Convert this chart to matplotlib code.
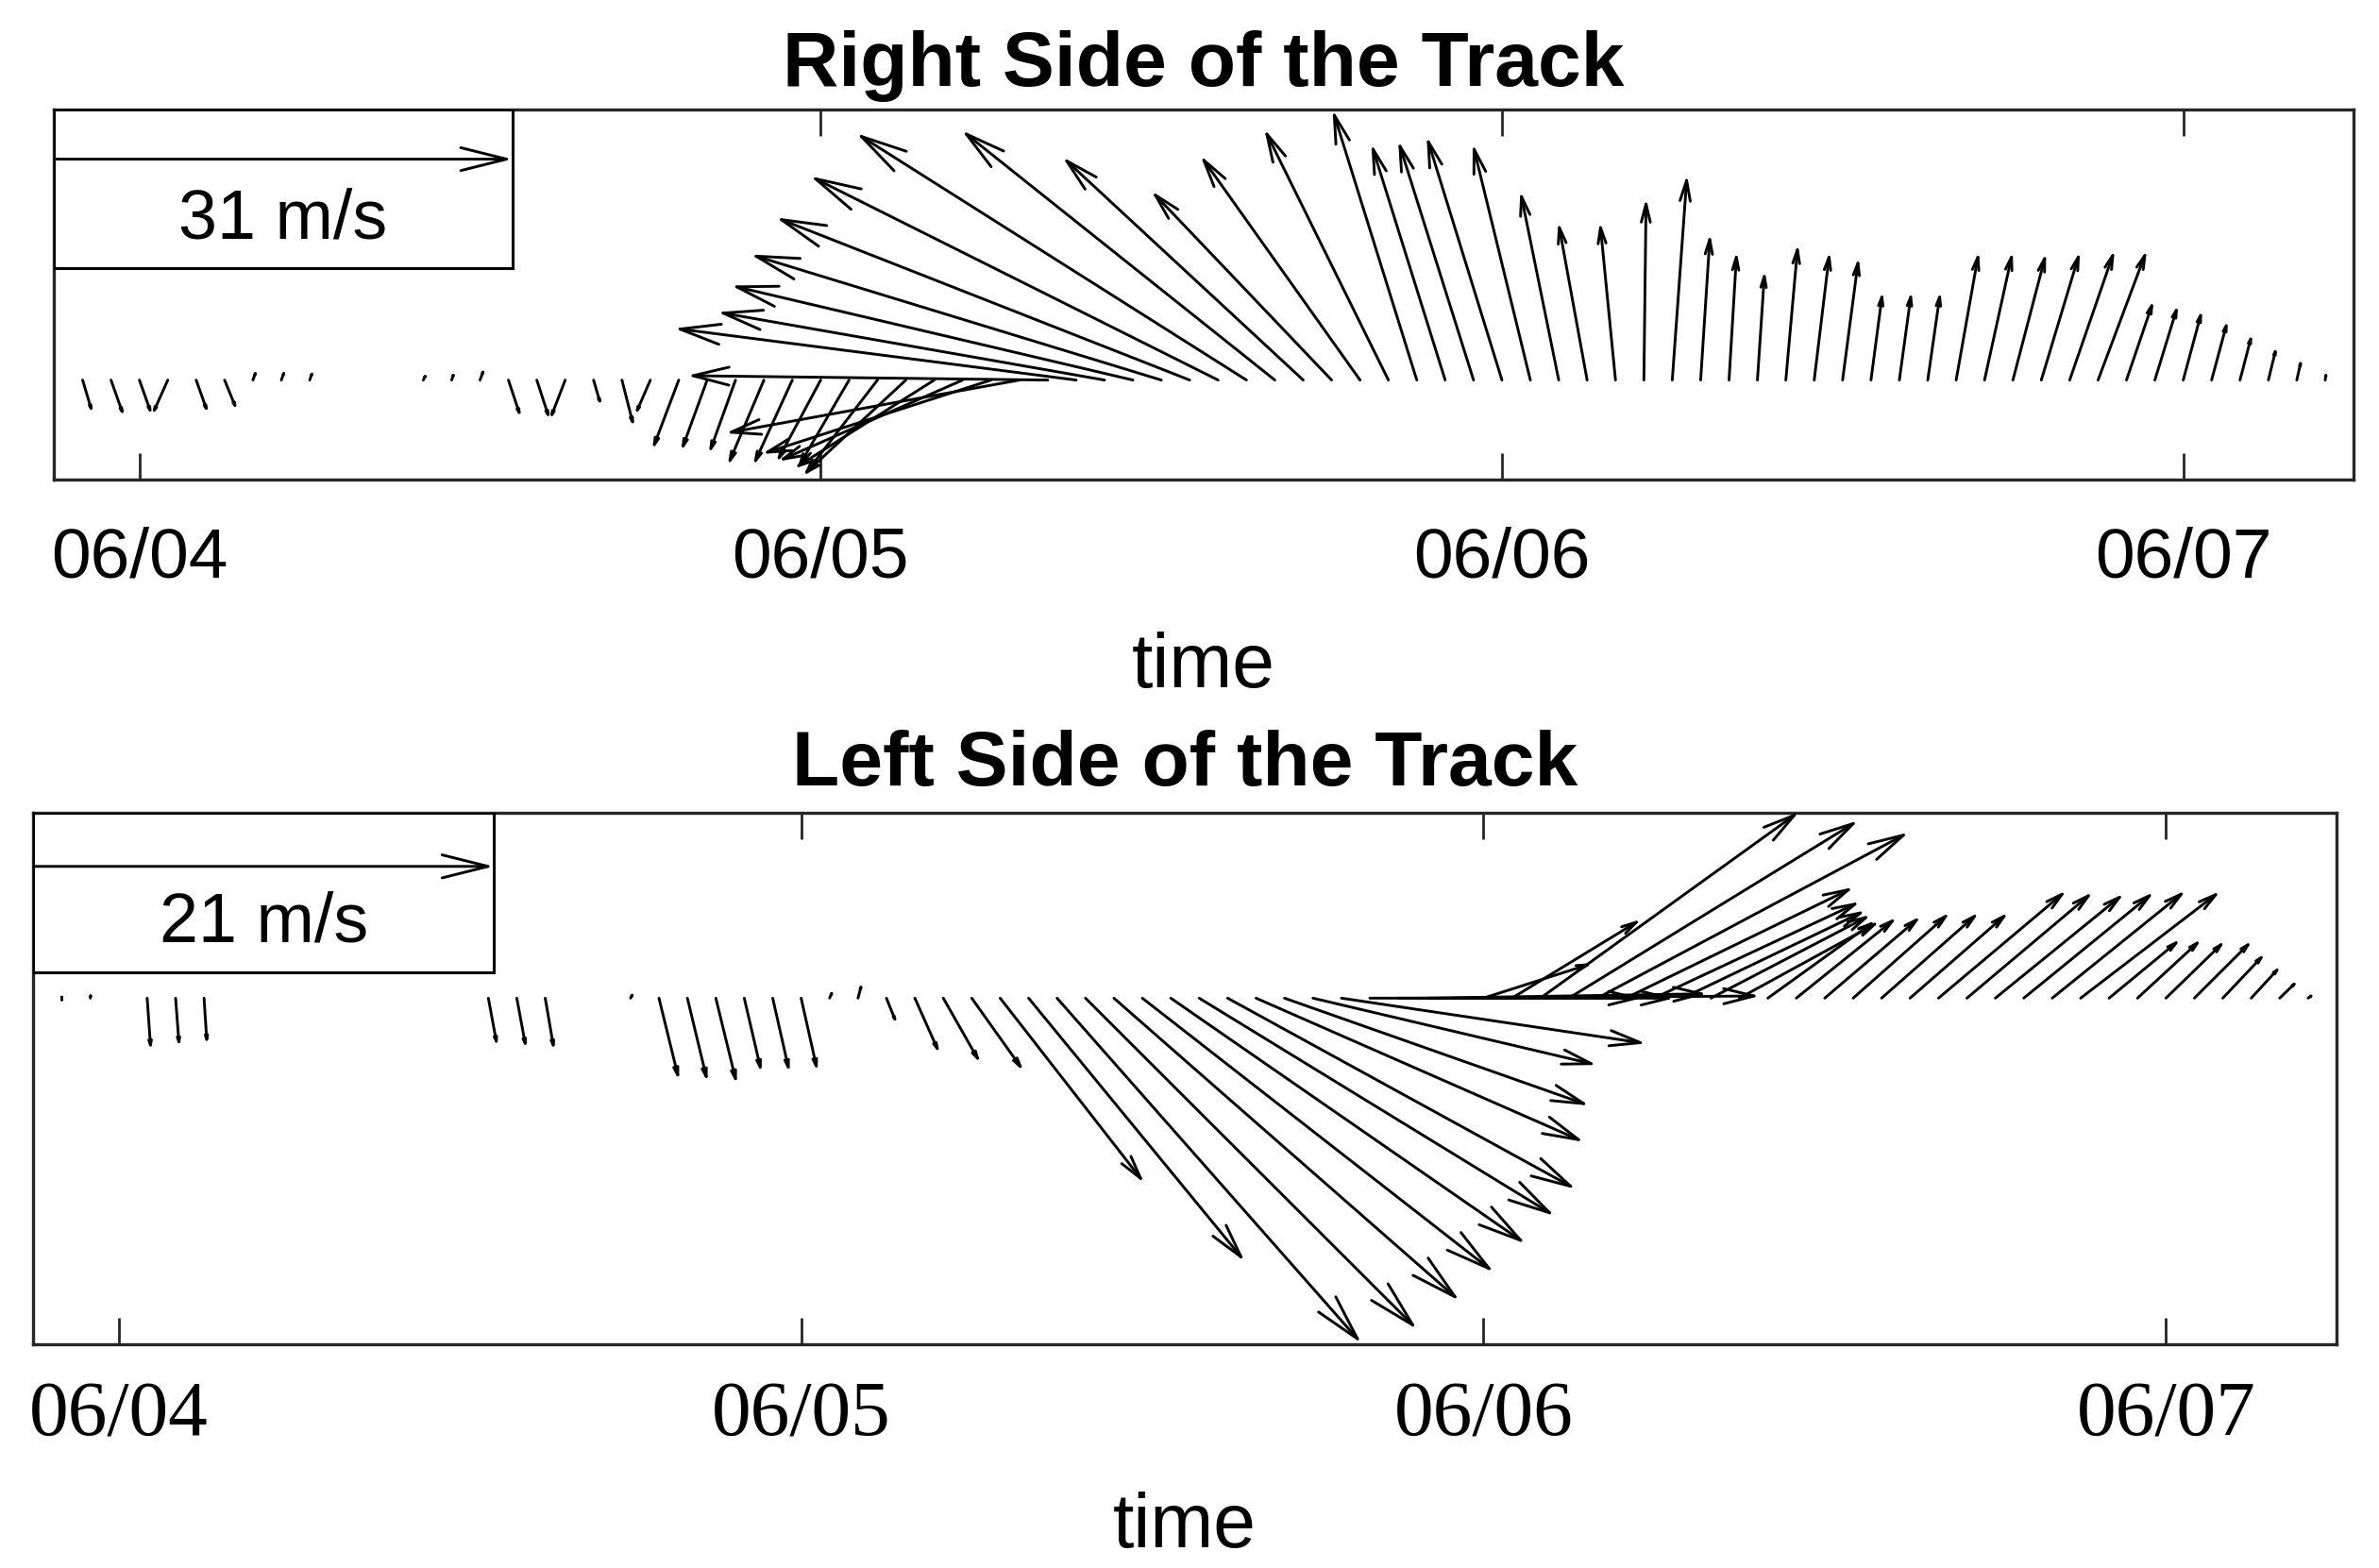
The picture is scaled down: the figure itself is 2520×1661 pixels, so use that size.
import datetime as dt
import numpy as np
import matplotlib
matplotlib.use('Agg')
import matplotlib.pyplot as plt
import matplotlib.dates as mdates
from matplotlib.patches import Rectangle

nan = np.nan
start = dt.datetime(2012, 6, 4)   # hour 0 = 06/04 00:00

# hourly wind components (m/s), right side of the track
hours_r = list(range(-2, 78))
u_r = [0.68, 0.88, 0.85, -1.07, 0.81, 0.85, 0.29, 0.29, 0.26, nan,
       nan, nan, 0.30, 0.23, 0.33, 0.85, 0.88, -1.04, 0.52, 0.81,
       -1.04, -1.79, -1.76, -1.80, -2.45, -2.65, -3.0, -3.5, -5.0, -7.0,
       -9.5, -12.5, -15.5, -19.9, -24.4, -27.2, -26.2, -27.2, -27.8, -28.0,
       -27.6, -26.4, -21.2, -16.3, -12.2, -10.8, -8.4, -5.7, -5.0, -5.1,
       -5.1, -3.9, -2.6, -1.95, -1.05, 0.15, 1.0, 0.64, 0.52, 0.49,
       0.82, 1.05, 1.09, 0.79, 0.82, 0.86, 1.54, 1.91, 2.25, 2.62,
       3.04, 3.30, 1.84, 1.57, 1.28, 1.09, 0.82, 0.56, 0.34, 0.11]
v_r = [-2.28, -2.49, -2.39, -2.39, -2.28, -2.07, 0.81, 0.81, 0.77, nan,
       nan, nan, 0.6, 0.7, 0.9, -2.56, -2.7, -2.7, -1.79, -3.2,
       -2.39, -4.73, -4.83, -5.0, -5.8, -5.8, -5.6, -6.0, -6.5, -6.5,
       -6.0, -5.5, -5.0, -3.6, 0.3, 3.5, 4.6, 6.4, 8.5, 11.0,
       13.8, 16.7, 16.9, 15.1, 12.8, 15.2, 17.0, 18.3, 16.0, 16.2,
       16.5, 16.0, 12.8, 10.7, 10.7, 12.3, 13.9, 9.9, 8.7, 7.4,
       9.2, 8.7, 8.3, 6.0, 6.0, 6.0, 8.7, 8.7, 8.6, 8.7,
       8.8, 8.8, 5.4, 5.1, 4.75, 4.05, 3.15, 2.3, 1.5, 0.7]

# hourly wind components (m/s), left side of the track
hours_l = list(range(-2, 78))
u_l = [0.0, 0.05, nan, 0.17, 0.17, 0.14, nan, nan, nan, nan,
       nan, nan, nan, nan, nan, 0.41, 0.43, 0.41, nan, nan,
       0.2, 0.92, 0.92, 0.96, 0.79, 0.77, 0.75, 0.2, 0.2, 0.48,
       1.13, 1.69, 2.37, 6.57, 9.86, 13.88, 15.12, 15.76, 16.03, 16.18,
       16.21, 15.88, 14.95, 13.9, 12.95, 13.9, 12.4, 12.6, 12.8, 13.9,
       5.0, 5.9, 11.8, 13.2, 14.2, 10.4, 9.4, 8.35, 7.3, 6.4,
       4.93, 4.59, 4.39, 4.42, 4.44, 4.49, 5.84, 5.75, 5.87, 5.94,
       6.09, 6.37, 3.26, 2.92, 2.7, 2.63, 1.93, 1.35, 0.85, 0.34]
v_l = [0.2, 0.36, nan, -2.4, -2.25, -2.14, nan, nan, nan, nan,
       nan, nan, nan, nan, nan, -2.22, -2.32, -2.4, nan, nan,
       0.36, -3.76, -3.83, -3.93, -3.4, -3.4, -3.35, 0.45, 0.75, -1.2,
       -2.54, -2.97, -3.33, -8.43, -12.01, -15.74, -15.1, -13.8, -12.5, -11.2,
       -9.93, -8.71, -6.56, -4.9, -3.05, -2.07, 0.0, 0.0, 0.2, 0.1,
       1.6, 3.6, 8.5, 8.1, 7.56, 5.06, 4.4, 4.0, 3.8, 3.5,
       3.55, 3.69, 3.74, 3.91, 3.91, 3.91, 4.91, 4.84, 4.77, 4.84,
       4.91, 4.88, 2.69, 2.69, 2.62, 2.62, 2.04, 1.47, 0.82, 0.25]

FW, FH, DPI = 12.6, 8.305, 200
FRAME = '#262626'


def add_stick(ax, x, y, u, v, k, coords='data', zorder=3):
    L = np.hypot(u, v) * k
    if not np.isfinite(L) or L <= 0:
        return
    a = ax.annotate('', xy=(x, y), xycoords=coords,
                    xytext=(u * k, v * k), textcoords='offset points',
                    zorder=zorder,
                    arrowprops=dict(arrowstyle='<-,head_length=0.4,head_width=0.1',
                                    mutation_scale=0.25 * L, lw=1.05, color='k',
                                    shrinkA=0, shrinkB=0))
    if coords == 'data':
        a.arrow_patch.set_clip_box(ax.bbox)


def stick_panel(ax, hours, u, v, ylim, key, title, title_pad, tick_font, tick_size, tick_pad,
                key_box, label_y):
    t0 = start + dt.timedelta(hours=-3)
    t1 = start + dt.timedelta(hours=78)
    ax.set_xlim(mdates.date2num(t0), mdates.date2num(t1))
    ax.set_ylim(*ylim)
    pos = ax.get_position()
    h_pt = pos.height * FH * 72
    w_pt = pos.width * FW * 72
    k = h_pt / (ylim[1] - ylim[0])   # points per m/s, same in x and y

    for h, uu, vv in zip(hours, u, v):
        t = mdates.date2num(start + dt.timedelta(hours=h))
        add_stick(ax, t, 0, uu, vv, k)

    # scale key in the upper left corner
    kw = key * k / w_pt
    ax.add_patch(Rectangle((0, key_box[0]), kw, 1 - key_box[0], transform=ax.transAxes,
                           facecolor='white', edgecolor='k', lw=1.1, zorder=5))
    add_stick(ax, 0, key_box[1], key, 0, k, coords='axes fraction', zorder=6)
    ax.text(kw / 2, key_box[2], '%d m/s' % key, transform=ax.transAxes, ha='center',
            va='center', fontsize=26.5, family='Liberation Sans', zorder=7)

    ax.xaxis.set_major_locator(mdates.DayLocator())
    ax.xaxis.set_major_formatter(mdates.DateFormatter('%m/%d'))
    ax.tick_params(axis='x', direction='in', top=True, bottom=True, length=10,
                   width=1.0, color=FRAME, pad=tick_pad, labelsize=tick_size)
    for lab in ax.get_xticklabels():
        lab.set_family(tick_font)
    ax.set_yticks([])
    for s in ax.spines.values():
        s.set_color(FRAME)
        s.set_linewidth(1.2)
    ax.set_title(title, fontsize=29.6, fontweight='bold', family='Liberation Sans', pad=title_pad)
    ax.set_xlabel('time', fontsize=29, family='Liberation Sans')
    ax.xaxis.label.set_va('baseline')
    ax.xaxis.set_label_coords(0.5, label_y)


fig = plt.figure(figsize=(FW, FH), dpi=DPI)
ax1 = fig.add_axes([0.0228, 0.6942, 0.9665, 0.2362])
ax2 = fig.add_axes([0.01405, 0.1427, 0.9681, 0.3390])

stick_panel(ax1, hours_r, u_r, v_r, (-6.73, 18.34), 31, 'Right Side of the Track', 8.7,
            'Liberation Sans', 27, 18, (0.571, 0.865, 0.701), -0.561)
stick_panel(ax2, hours_l, u_l, v_l, (-15.79, 8.46), 21, 'Left Side of the Track', 10.3,
            'Liberation Serif', 30, 14, (0.700, 0.899, 0.792), -0.382)

fig.savefig('out.png', dpi=DPI)
